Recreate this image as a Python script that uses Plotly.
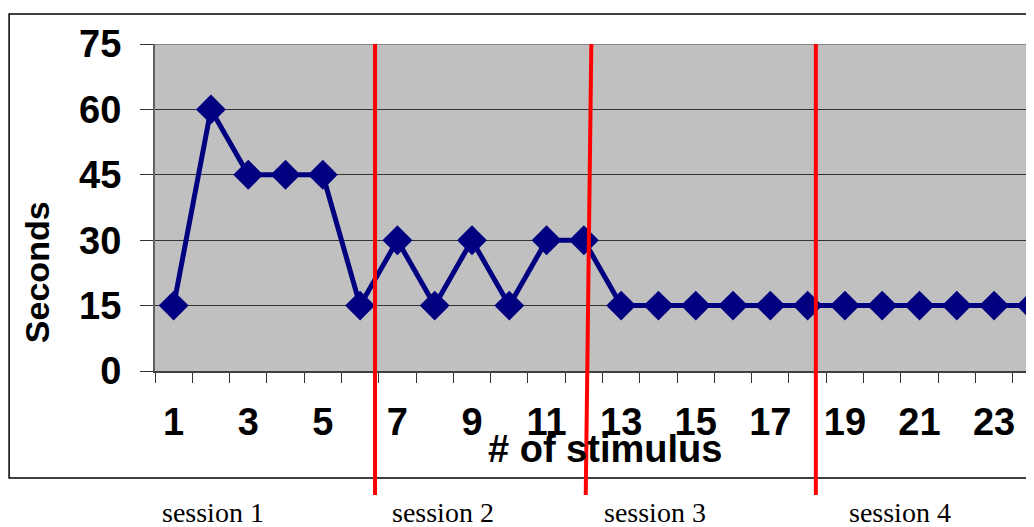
import plotly.graph_objects as go

# stimulus number and time to respond
stimulus = [1, 2, 3, 4, 5, 6, 7, 8, 9, 10, 11, 12,
            13, 14, 15, 16, 17, 18, 19, 20, 21, 22, 23, 24]
seconds = [15, 60, 45, 45, 45, 15, 30, 15, 30, 15, 30, 30,
           15, 15, 15, 15, 15, 15, 15, 15, 15, 15, 15, 15]

y_ticks = [0, 15, 30, 45, 60, 75]
x_tick_vals = [1, 3, 5, 7, 9, 11, 13, 15, 17, 19, 21, 23]

# session boundaries (top x, bottom x) in stimulus units, and label positions
session_bounds = [(6.4, 6.4), (12.2, 12.05), (18.22, 18.22)]
session_names = ["session 1", "session 2", "session 3", "session 4"]
session_label_x = [2.05, 8.22, 13.9, 20.47]

bold = dict(family="Arial, Liberation Sans", size=38, color="black", weight="bold")

fig = go.Figure()
fig.add_trace(go.Scatter(
    x=stimulus, y=seconds, mode="lines+markers",
    line=dict(color="#000080", width=5),
    marker=dict(symbol="diamond", size=23, color="#000080"),
    cliponaxis=False, showlegend=False,
))

# page body has an 8px margin, so the figure is 8px smaller and shifted
fig.update_layout(
    width=1026, height=519,
    margin=dict(l=147, r=0, t=36, b=156),
    paper_bgcolor="white", plot_bgcolor="#C0C0C0",
    xaxis=dict(
        range=[0.5, 24.07], tickmode="array", tickvals=x_tick_vals,
        ticktext=[str(v) for v in x_tick_vals], ticks="",
        minor=dict(tick0=0.5, dtick=1, ticks="outside", ticklen=10,
                   tickcolor="#333333", tickwidth=1, showgrid=False),
        showgrid=False, zeroline=False,
        showline=True, linecolor="#404040", linewidth=2,
        tickfont=bold, ticklabelstandoff=16,
    ),
    yaxis=dict(
        range=[0, 75], tickmode="array", tickvals=y_ticks,
        ticks="outside", ticklen=13, tickcolor="#333333",
        showgrid=True, gridcolor="#333333", gridwidth=1, zeroline=False,
        showline=True, linecolor="#606060", linewidth=2,
        tickfont=bold, ticklabelstandoff=11,
    ),
)

shapes = []
# top border of plot area
shapes.append(dict(type="line", xref="paper", yref="y", x0=0, x1=1, y0=75, y1=75,
                   line=dict(color="#888888", width=2)))
# outer chart frame
shapes.append(dict(type="rect", xref="paper", yref="paper",
                   x0=-0.166, x1=1.02, y0=-0.327, y1=1.092,
                   line=dict(color="black", width=1.5), layer="below"))
# session separators
for top_x, bot_x in session_bounds:
    shapes.append(dict(type="line", xref="x", yref="paper",
                       x0=top_x, x1=bot_x, y0=1.0, y1=-0.379,
                       line=dict(color="#FF0000", width=4)))
fig.update_layout(shapes=shapes)

annotations = [
    dict(text="# of stimulus", xref="paper", yref="paper", x=0.512, y=-0.24,
         showarrow=False, font=bold, xanchor="center", yanchor="middle"),
    dict(text="Seconds", xref="paper", yref="paper", x=-0.134, y=0.303,
         textangle=-90, showarrow=False,
         font=dict(family="Arial, Liberation Sans", size=34, color="black", weight="bold"),
         xanchor="center", yanchor="middle"),
]
for name, lx in zip(session_names, session_label_x):
    annotations.append(dict(text=name, xref="x", yref="paper", x=lx, y=-0.432,
                            showarrow=False, xanchor="center", yanchor="middle",
                            borderpad=0,
                            font=dict(family="Liberation Serif, Times New Roman",
                                      size=28, color="black")))
fig.update_layout(annotations=annotations)

fig.write_html("out.html")
